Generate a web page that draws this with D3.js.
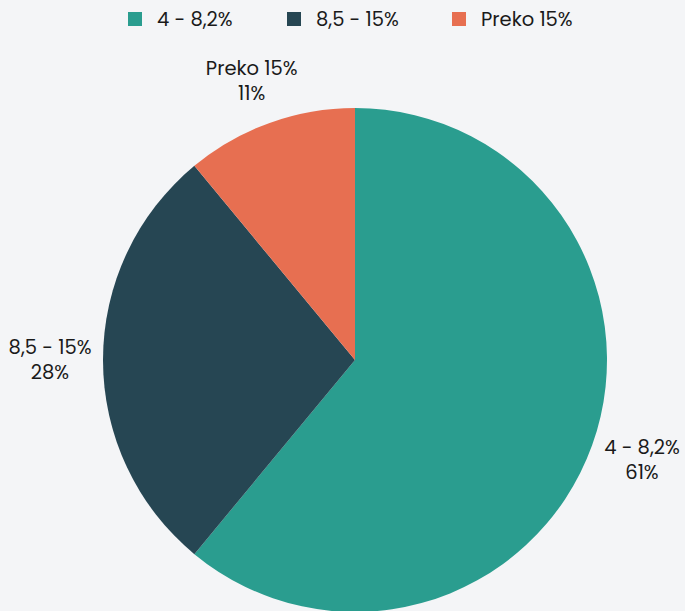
<!DOCTYPE html>
<html><head><meta charset="utf-8">
<script src="https://cdn.jsdelivr.net/npm/d3@7"></script>
<style>
html,body{margin:0;padding:0;background:#f4f5f7;}
svg{display:block;font-family:Poppins,Inter,"Open Sans",sans-serif;}
</style></head>
<body>
<svg id="c" width="685" height="611"></svg>
<script>
const categories = ["4 - 8,2%", "8,5 - 15%", "Preko 15%"];
const values = [61, 28, 11];
const colors = ["#2a9d8f", "#264653", "#e76f51"];

const svg = d3.select("#c");
const cx = 355, cy = 360, R = 252;

const color = d3.scaleOrdinal().domain(categories).range(colors);
const data = categories.map((c, i) => ({name: c, value: values[i]}));
const pie = d3.pie().value(d => d.value).sort(null);
const arcs = pie(data);
const arc = d3.arc().innerRadius(0).outerRadius(R);

const g = svg.append("g").attr("transform", `translate(${cx},${cy})`);
g.selectAll("path").data(arcs).join("path")
  .attr("d", arc)
  .attr("fill", d => color(d.data.name));

const total = d3.sum(values);
const lblG = g.selectAll("g.lbl").data(arcs).join("g")
  .attr("class", "lbl")
  .attr("transform", d => {
    const a = (d.startAngle + d.endAngle) / 2;
    return `translate(${Math.sin(a) * 305},${-Math.cos(a) * 296})`;
  });
lblG.append("text")
  .attr("text-anchor", "middle").attr("font-size", 19.5).attr("fill", "#1a1a1a")
  .attr("y", -6).text(d => d.data.name);
lblG.append("text")
  .attr("text-anchor", "middle").attr("font-size", 19.5).attr("fill", "#1a1a1a")
  .attr("y", 19).text(d => Math.round(d.value / total * 100) + "%");

// legend
const legendX = [128, 287, 452];
const leg = svg.append("g");
const items = leg.selectAll("g").data(categories).join("g")
  .attr("transform", (d, i) => `translate(${legendX[i]},12)`);
items.append("rect").attr("width", 14).attr("height", 14).attr("fill", d => color(d));
items.append("text").attr("x", 29).attr("y", 14).attr("font-size", 19.5).attr("fill", "#1a1a1a").text(d => d);
</script>
</body></html>
